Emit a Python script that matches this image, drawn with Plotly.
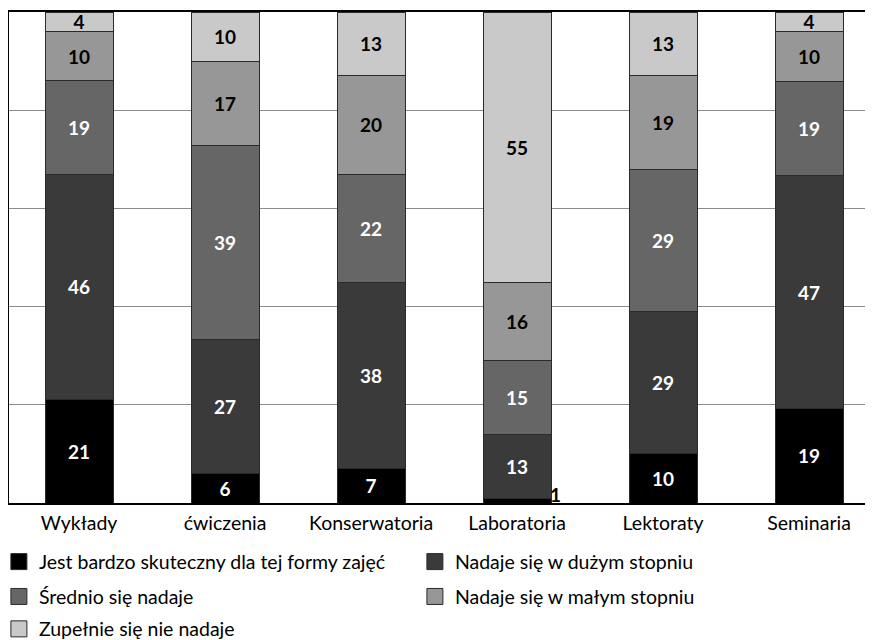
import plotly.graph_objects as go

categories = ["Wykłady", "ćwiczenia", "Konserwatoria", "Laboratoria", "Lektoraty", "Seminaria"]
series_names = [
    "Jest bardzo skuteczny dla tej formy zajęć",
    "Nadaje się w dużym stopniu",
    "Średnio się nadaje",
    "Nadaje się w małym stopniu",
    "Zupełnie się nie nadaje",
]
bardzo = [21, 6, 7, 1, 10, 19]
duzym = [46, 27, 38, 13, 29, 47]
srednio = [19, 39, 22, 15, 29, 19]
malym = [10, 17, 20, 16, 19, 10]
wcale = [4, 10, 13, 55, 13, 4]
series_values = [bardzo, duzym, srednio, malym, wcale]

colors = ["#000000", "#3a3a3a", "#666666", "#979797", "#c9c9c9"]
text_colors = ["white", "white", "white", "black", "black"]
legend_ids = ["legend", "legend", "legend2", "legend2", "legend3"]

FONT = "Lato"
LABEL_SIZE = 19
fig = go.Figure()
small = []
for i, (name, vals) in enumerate(zip(series_names, series_values)):
    texts = [str(v) if v >= 3 else "" for v in vals]
    for j, v in enumerate(vals):
        if v < 3:
            small.append((i, j, v))
    fig.add_trace(go.Bar(
        x=categories, y=vals, name=name, text=texts, showlegend=False,
        textposition="inside", insidetextanchor="middle", textangle=0,
        textfont=dict(family=FONT, size=LABEL_SIZE, color=text_colors[i], weight="bold"),
        marker=dict(color=colors[i], line=dict(color="#2a2a2a", width=1)),
    ))

# legend entries (square swatches)
for i, name in enumerate(series_names):
    fig.add_trace(go.Scatter(
        x=[None], y=[None], mode="markers", name=name, legend=legend_ids[i],
        marker=dict(symbol="square", size=16, color=colors[i],
                    line=dict(color="#2a2a2a", width=1)),
    ))

# labels for tiny segments, placed just right of the bar
for i, j, v in small:
    tot = sum(s[j] for s in series_values)
    base = sum(series_values[k][j] for k in range(i)) / tot * 100
    fig.add_annotation(x=categories[j], y=base, xanchor="left", yanchor="bottom",
                       xshift=31, yshift=-5, text=str(v), showarrow=False,
                       font=dict(family=FONT, size=LABEL_SIZE, color="black", weight="bold"))

leg = dict(orientation="h", x=-0.0117, xanchor="left", yanchor="middle",
           entrywidth=371, entrywidthmode="pixels", traceorder="normal",
           font=dict(family=FONT, size=19.5, color="black"), bgcolor="rgba(0,0,0,0)")
fig.update_layout(
    width=865, height=632,
    margin=dict(l=1, r=0, t=4, b=137, autoexpand=False),
    barmode="stack", barnorm="percent", bargap=0.534,
    plot_bgcolor="white", paper_bgcolor="white",
    uniformtext=dict(minsize=LABEL_SIZE, mode="show"),
    legend=dict(leg, y=-0.120),
    legend2=dict(leg, y=-0.191),
    legend3=dict(leg, y=-0.257),
    xaxis=dict(range=[-0.48, 5.438], showline=True, linecolor="black", linewidth=1.5,
               mirror=True, ticks="", ticklabelstandoff=2,
               tickfont=dict(family=FONT, size=19.5, color="black")),
    yaxis=dict(range=[0, 100], dtick=20, showgrid=True, gridcolor="#8c8c8c", gridwidth=1,
               showticklabels=False, showline=True, linecolor="black", linewidth=1.5,
               zeroline=False),
)
fig.write_html("out.html")
